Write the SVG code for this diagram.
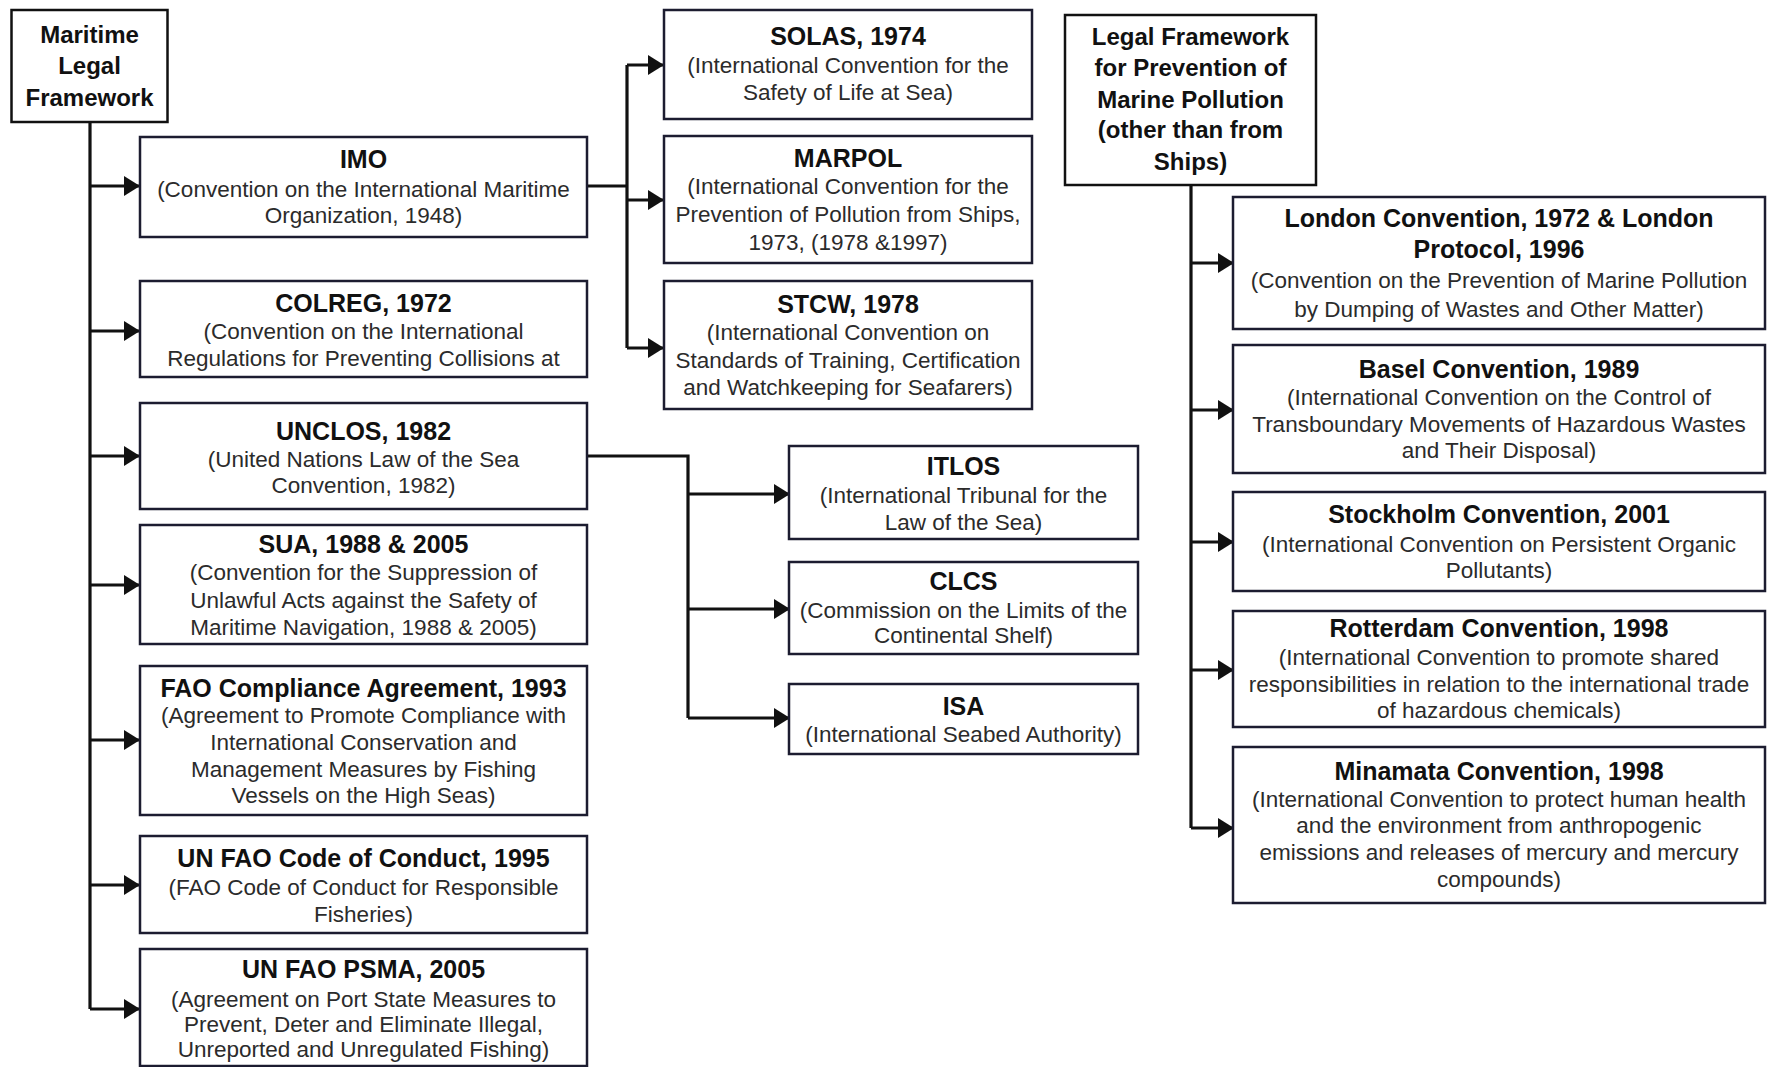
<svg xmlns="http://www.w3.org/2000/svg" width="1767" height="1067" viewBox="0 0 1767 1067">
<defs>
<marker id="ah" markerUnits="userSpaceOnUse" markerWidth="16" markerHeight="20" refX="15" refY="10" orient="auto">
<path d="M0,0 L16,10 L0,20 z" fill="#111"/>
</marker>
<style>
.hdr{fill:#fff;stroke:#111;stroke-width:2.5}
.box{fill:#fff;stroke:#1c1c30;stroke-width:2.5}
.t{font-family:"Liberation Sans",Arial,sans-serif;font-weight:bold;font-size:25px;fill:#111;text-anchor:middle}
.h{font-family:"Liberation Sans",Arial,sans-serif;font-weight:bold;font-size:24px;fill:#111;text-anchor:middle}
.b{font-family:"Liberation Sans",Arial,sans-serif;font-size:22.5px;fill:#2b2b2b;text-anchor:middle}
.c{fill:none;stroke:#111;stroke-width:3.2}
.a{fill:none;stroke:#111;stroke-width:3.2;marker-end:url(#ah)}
</style>
</defs>
<rect width="1767" height="1067" fill="#fff"/>

<g id="connectors">
<path class="c" d="M90,122 V1009"/>
<path class="a" d="M90,186 H139"/>
<path class="a" d="M90,331 H139"/>
<path class="a" d="M90,456 H139"/>
<path class="a" d="M90,585 H139"/>
<path class="a" d="M90,740 H139"/>
<path class="a" d="M90,885 H139"/>
<path class="a" d="M90,1009 H139"/>
<path class="c" d="M587,186 H627"/>
<path class="c" d="M627,65 V348"/>
<path class="a" d="M627,65 H663"/>
<path class="a" d="M627,200 H663"/>
<path class="a" d="M627,348 H663"/>
<path class="c" d="M587,456 H688 V718"/>
<path class="a" d="M688,494 H789"/>
<path class="a" d="M688,609 H789"/>
<path class="a" d="M688,718 H789"/>
<path class="c" d="M1191,185 V828"/>
<path class="a" d="M1191,263 H1233"/>
<path class="a" d="M1191,410 H1233"/>
<path class="a" d="M1191,542 H1233"/>
<path class="a" d="M1191,670 H1233"/>
<path class="a" d="M1191,828 H1233"/>
</g>

<g id="maritime">
<rect class="hdr" x="11.5" y="10" width="156" height="112"/>
<text class="h" x="89.5" y="43">Maritime</text>
<text class="h" x="89.5" y="74">Legal</text>
<text class="h" x="89.5" y="106">Framework</text>
</g>

<g id="imo">
<rect class="box" x="140" y="137" width="447" height="100"/>
<text class="t" x="363.5" y="168">IMO</text>
<text class="b" x="363.5" y="197">(Convention on the International Maritime</text>
<text class="b" x="363.5" y="223">Organization, 1948)</text>
</g>

<g id="colreg">
<rect class="box" x="140" y="281" width="447" height="96"/>
<text class="t" x="363.5" y="312">COLREG, 1972</text>
<text class="b" x="363.5" y="339">(Convention on the International</text>
<text class="b" x="363.5" y="366">Regulations for Preventing Collisions at</text>
</g>

<g id="unclos">
<rect class="box" x="140" y="403" width="447" height="106"/>
<text class="t" x="363.5" y="440">UNCLOS, 1982</text>
<text class="b" x="363.5" y="467">(United Nations Law of the Sea</text>
<text class="b" x="363.5" y="493">Convention, 1982)</text>
</g>

<g id="sua">
<rect class="box" x="140" y="525" width="447" height="119"/>
<text class="t" x="363.5" y="553">SUA, 1988 &amp; 2005</text>
<text class="b" x="363.5" y="580">(Convention for the Suppression of</text>
<text class="b" x="363.5" y="608">Unlawful Acts against the Safety of</text>
<text class="b" x="363.5" y="635">Maritime Navigation, 1988 &amp; 2005)</text>
</g>

<g id="fao-compliance">
<rect class="box" x="140" y="666" width="447" height="149"/>
<text class="t" x="363.5" y="697">FAO Compliance Agreement, 1993</text>
<text class="b" x="363.5" y="723">(Agreement to Promote Compliance with</text>
<text class="b" x="363.5" y="750">International Conservation and</text>
<text class="b" x="363.5" y="777">Management Measures by Fishing</text>
<text class="b" x="363.5" y="803">Vessels on the High Seas)</text>
</g>

<g id="fao-code">
<rect class="box" x="140" y="836" width="447" height="97"/>
<text class="t" x="363.5" y="867">UN FAO Code of Conduct, 1995</text>
<text class="b" x="363.5" y="895">(FAO Code of Conduct for Responsible</text>
<text class="b" x="363.5" y="922">Fisheries)</text>
</g>

<g id="psma">
<rect class="box" x="140" y="949" width="447" height="117"/>
<text class="t" x="363.5" y="978">UN FAO PSMA, 2005</text>
<text class="b" x="363.5" y="1007">(Agreement on Port State Measures to</text>
<text class="b" x="363.5" y="1032">Prevent, Deter and Eliminate Illegal,</text>
<text class="b" x="363.5" y="1057">Unreported and Unregulated Fishing)</text>
</g>

<g id="solas">
<rect class="box" x="664" y="10" width="368" height="109"/>
<text class="t" x="848" y="45">SOLAS, 1974</text>
<text class="b" x="848" y="73">(International Convention for the</text>
<text class="b" x="848" y="100">Safety of Life at Sea)</text>
</g>

<g id="marpol">
<rect class="box" x="664" y="136" width="368" height="127"/>
<text class="t" x="848" y="167">MARPOL</text>
<text class="b" x="848" y="194">(International Convention for the</text>
<text class="b" x="848" y="222">Prevention of Pollution from Ships,</text>
<text class="b" x="848" y="250">1973, (1978 &amp;1997)</text>
</g>

<g id="stcw">
<rect class="box" x="664" y="281" width="368" height="128"/>
<text class="t" x="848" y="313">STCW, 1978</text>
<text class="b" x="848" y="340">(International Convention on</text>
<text class="b" x="848" y="368">Standards of Training, Certification</text>
<text class="b" x="848" y="395">and Watchkeeping for Seafarers)</text>
</g>

<g id="itlos">
<rect class="box" x="789" y="446" width="349" height="93"/>
<text class="t" x="963.5" y="475">ITLOS</text>
<text class="b" x="963.5" y="503">(International Tribunal for the</text>
<text class="b" x="963.5" y="530">Law of the Sea)</text>
</g>

<g id="clcs">
<rect class="box" x="789" y="562" width="349" height="92"/>
<text class="t" x="963.5" y="590">CLCS</text>
<text class="b" x="963.5" y="618">(Commission on the Limits of the</text>
<text class="b" x="963.5" y="643">Continental Shelf)</text>
</g>

<g id="isa">
<rect class="box" x="789" y="684" width="349" height="70"/>
<text class="t" x="963.5" y="715">ISA</text>
<text class="b" x="963.5" y="742">(International Seabed Authority)</text>
</g>

<g id="pollution">
<rect class="hdr" x="1065" y="15" width="251" height="170"/>
<text class="h" x="1190.5" y="45">Legal Framework</text>
<text class="h" x="1190.5" y="76">for Prevention of</text>
<text class="h" x="1190.5" y="108">Marine Pollution</text>
<text class="h" x="1190.5" y="138">(other than from</text>
<text class="h" x="1190.5" y="170">Ships)</text>
</g>

<g id="london">
<rect class="box" x="1233" y="197" width="532" height="132"/>
<text class="t" x="1499" y="227">London Convention, 1972 &amp; London</text>
<text class="t" x="1499" y="258">Protocol, 1996</text>
<text class="b" x="1499" y="288">(Convention on the Prevention of Marine Pollution</text>
<text class="b" x="1499" y="317">by Dumping of Wastes and Other Matter)</text>
</g>

<g id="basel">
<rect class="box" x="1233" y="345" width="532" height="128"/>
<text class="t" x="1499" y="378">Basel Convention, 1989</text>
<text class="b" x="1499" y="405">(International Convention on the Control of</text>
<text class="b" x="1499" y="432">Transboundary Movements of Hazardous Wastes</text>
<text class="b" x="1499" y="458">and Their Disposal)</text>
</g>

<g id="stockholm">
<rect class="box" x="1233" y="492" width="532" height="99"/>
<text class="t" x="1499" y="523">Stockholm Convention, 2001</text>
<text class="b" x="1499" y="552">(International Convention on Persistent Organic</text>
<text class="b" x="1499" y="578">Pollutants)</text>
</g>

<g id="rotterdam">
<rect class="box" x="1233" y="611" width="532" height="116"/>
<text class="t" x="1499" y="637">Rotterdam Convention, 1998</text>
<text class="b" x="1499" y="665">(International Convention to promote shared</text>
<text class="b" x="1499" y="692">responsibilities in relation to the international trade</text>
<text class="b" x="1499" y="718">of hazardous chemicals)</text>
</g>

<g id="minamata">
<rect class="box" x="1233" y="747" width="532" height="156"/>
<text class="t" x="1499" y="780">Minamata Convention, 1998</text>
<text class="b" x="1499" y="807">(International Convention to protect human health</text>
<text class="b" x="1499" y="833">and the environment from anthropogenic</text>
<text class="b" x="1499" y="860">emissions and releases of mercury and mercury</text>
<text class="b" x="1499" y="887">compounds)</text>
</g>
</svg>
